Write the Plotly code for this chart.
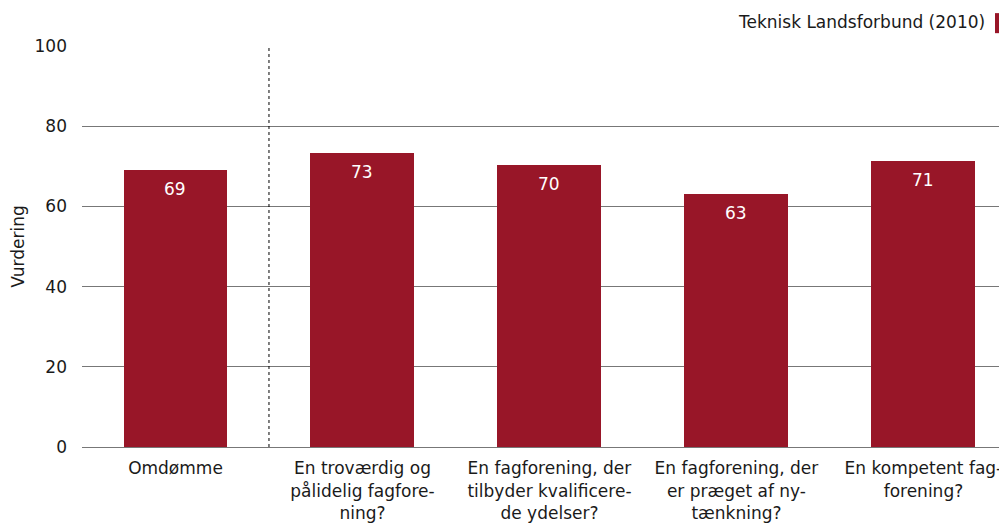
import plotly.graph_objects as go

categories = [
    "Omdømme",
    "En troværdig og<br>pålidelig fagfore-<br>ning?",
    "En fagforening, der<br>tilbyder kvalificere-<br>de ydelser?",
    "En fagforening, der<br>er præget af ny-<br>tænkning?",
    "En kompetent fag-<br>forening?",
]
values = [69.0, 73.3, 70.4, 63.0, 71.4]
series_name = "Teknisk Landsforbund (2010)"
y_ticks = [0, 20, 40, 60, 80, 100]

BAR = "#981628"
FONT = "DejaVu Sans"
TXT = "#1a1a1a"
FS = 17

x_idx = list(range(len(categories)))

fig = go.Figure()
fig.add_trace(go.Bar(
    x=x_idx,
    y=values,
    name=series_name,
    marker=dict(color=BAR, line=dict(width=0)),
    width=0.556,
    showlegend=False,
))

# value labels inside the top of each bar
for xi, v in zip(x_idx, values):
    fig.add_annotation(x=xi, y=v, xref="x", yref="y", text=f"{v:.0f}", showarrow=False,
                       yanchor="middle", yshift=-19,
                       font=dict(color="white", size=FS, family=FONT))

# separator between first category and the rest
fig.add_shape(type="line", xref="x", yref="y", x0=0.5, x1=0.5, y0=0, y1=100,
              line=dict(color="black", width=1, dash="dot"), layer="above")

# legend-like label in the top right
fig.add_annotation(xref="paper", yref="paper", x=0.978, y=1.06, xanchor="right", yanchor="middle",
                   text=series_name, showarrow=False, font=dict(size=FS, family=FONT, color=TXT))
fig.add_shape(type="rect", xref="paper", yref="paper", x0=0.987, x1=1.02, y0=1.032, y1=1.082,
              fillcolor=BAR, line=dict(width=0))

fig.update_layout(
    width=999, height=517,
    margin=dict(l=74, r=0, t=38, b=78),
    paper_bgcolor="white", plot_bgcolor="white",
    font=dict(family=FONT, size=FS, color=TXT),
    bargap=0,
    xaxis=dict(
        tickmode="array", tickvals=x_idx, ticktext=categories,
        range=[-0.5, 4.447], showgrid=False, showline=False, zeroline=False,
        ticks="outside", ticklen=6, tickcolor="rgba(0,0,0,0)",
        tickfont=dict(size=FS, family=FONT, color=TXT), fixedrange=True,
    ),
    yaxis=dict(
        range=[0, 100], tickvals=y_ticks, showgrid=True, gridcolor="#777777", gridwidth=1,
        zeroline=True, zerolinecolor="#777777", zerolinewidth=1, showline=False,
        ticks="", ticklabelstandoff=14,
        tickfont=dict(size=FS, family=FONT, color=TXT),
        title=dict(text="Vurdering", font=dict(size=FS, family=FONT, color=TXT), standoff=8),
    ),
)

fig.write_html("out.html")
